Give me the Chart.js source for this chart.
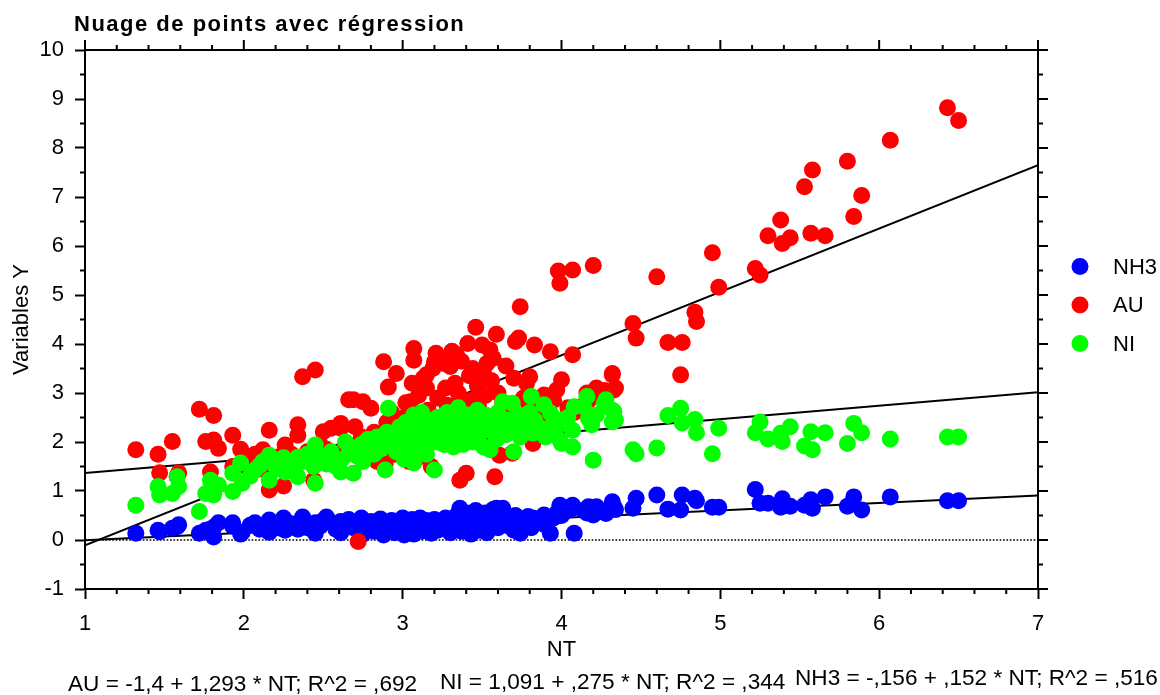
<!DOCTYPE html>
<html>
<head>
<meta charset="utf-8">
<title>Nuage de points avec régression</title>
<script src="https://cdn.jsdelivr.net/npm/chart.js@4/dist/chart.umd.min.js"></script>
<style>
  html, body { margin: 0; padding: 0; background: #ffffff; }
  #wrap { width: 1160px; height: 695px; position: relative; }
  canvas { display: block; }
</style>
</head>
<body>
<div id="wrap"><canvas id="chart" width="1160" height="695"></canvas></div>
<script>
// ---- Observations: NT and the three measured variables (same order) ----
const nt = [
  1.32,1.46,1.47,1.55,1.58,1.59,1.72,1.76,1.79,1.81,1.81,1.84,1.93,1.93,1.98,1.99,
  2.04,2.07,2.10,2.12,2.16,2.16,2.20,2.22,2.25,2.26,2.26,2.30,2.34,2.34,2.37,2.40,2.44,2.45,2.45,2.48,2.50,2.52,
  2.55,2.58,2.61,2.61,2.64,2.66,2.69,2.70,2.72,2.74,2.75,2.78,2.80,2.82,2.84,2.86,2.88,2.89,2.90,2.91,
  2.93,2.95,2.96,2.98,3.00,3.01,3.02,3.04,3.05,3.06,3.07,3.07,3.08,3.10,3.11,3.12,3.13,3.15,3.15,3.16,3.18,3.19,3.20,3.21,3.22,3.24,
  3.26,3.27,3.28,3.30,3.31,3.32,3.33,3.34,3.35,3.36,3.37,3.38,3.40,3.41,3.42,3.43,3.44,3.46,3.47,3.48,3.50,3.51,3.52,3.53,3.55,3.56,3.57,3.58,3.59,3.60,
  3.61,3.63,3.65,3.67,3.69,3.70,3.71,3.73,3.74,3.76,3.78,3.79,3.80,3.81,3.82,3.83,3.86,3.89,3.90,3.93,3.95,3.97,3.98,3.99,4.00,4.04,4.07,4.07,4.08,4.14,4.16,4.17,4.19,4.20,4.22,4.27,4.28,4.32,4.32,4.33,4.34,
  4.45,4.47,4.60,4.67,4.75,4.76,4.84,4.85,4.95,4.99,5.22,5.25,5.30,5.38,5.39,5.44,5.53,5.57,5.58,5.66,5.80,5.84,5.89,6.07,6.43,6.50
];
const nh3 = [
  0.14,0.20,0.17,0.24,0.27,0.31,0.14,0.20,0.22,0.06,0.26,0.35,0.35,0.28,0.12,0.16,
  0.30,0.35,0.22,0.28,0.41,0.16,0.30,0.25,0.45,0.27,0.20,0.33,0.31,0.22,0.47,0.25,0.30,0.35,0.14,0.28,0.40,0.47,
  0.35,0.22,0.38,0.15,0.30,0.42,0.25,0.33,0.20,0.45,0.12,0.30,0.38,0.18,0.27,0.43,0.10,0.35,0.22,0.30,
  0.40,0.15,0.32,0.25,0.45,0.10,0.35,0.28,0.20,0.42,0.33,0.12,0.38,0.25,0.45,0.18,0.30,0.40,0.22,0.35,0.14,0.28,0.42,0.33,0.20,0.38,
  0.25,0.45,0.30,0.15,0.40,0.35,0.22,0.50,0.28,0.65,0.18,0.35,0.55,0.25,0.42,0.12,0.38,0.60,0.30,0.20,0.45,0.35,0.55,0.15,0.40,0.28,0.62,0.48,0.65,0.25,
  0.35,0.65,0.30,0.45,0.40,0.20,0.50,0.35,0.14,0.42,0.30,0.48,0.37,0.25,0.45,0.33,0.40,0.51,0.30,0.14,0.45,0.55,0.50,0.71,0.50,0.60,0.71,0.65,0.14,0.60,0.55,0.68,0.60,0.51,0.68,0.58,0.54,0.73,0.78,0.68,0.62,
  0.65,0.85,0.92,0.63,0.61,0.92,0.85,0.80,0.67,0.67,1.03,0.75,0.75,0.67,0.84,0.69,0.71,0.82,0.65,0.88,0.69,0.88,0.61,0.88,0.80,0.80
];
const au = [
  1.84,1.75,1.37,2.01,1.30,1.37,2.67,2.01,1.39,2.54,2.04,1.87,2.14,1.50,1.85,1.52,
  1.60,1.75,1.45,1.84,2.24,1.02,1.55,1.70,1.10,1.94,1.60,1.75,2.35,2.14,3.33,1.80,1.22,3.47,1.65,1.95,2.21,1.85,
  2.28,1.70,2.28,2.38,1.90,2.86,2.86,2.31,-0.03,2.10,2.82,1.80,2.69,2.20,1.60,1.95,3.64,1.55,2.40,3.12,
  2.60,1.75,3.40,2.20,1.90,2.50,2.80,1.60,2.82,3.20,3.91,3.67,2.10,2.95,1.70,2.40,3.30,3.37,3.10,2.65,1.50,3.50,3.64,3.81,2.90,2.30,
  3.60,3.10,2.75,3.54,3.85,2.50,3.20,3.78,3.00,1.22,3.65,2.60,1.36,4.01,3.35,2.85,3.50,4.34,3.15,2.70,3.98,3.40,2.95,3.60,3.88,3.25,3.71,1.29,4.20,3.00,
  1.73,2.80,3.55,2.50,1.77,3.30,4.05,4.12,4.76,2.90,3.20,2.65,3.33,2.40,1.97,3.98,2.75,2.96,2.55,3.84,2.85,3.06,5.49,5.24,3.27,2.70,5.51,3.78,2.60,2.75,3.00,2.85,2.93,5.60,3.10,3.05,2.95,3.40,3.37,3.06,3.10,
  4.42,4.12,5.37,4.03,3.37,4.03,4.65,4.46,5.86,5.16,5.54,5.41,6.21,6.53,6.05,6.17,7.21,6.26,7.55,6.21,7.73,6.60,7.03,8.16,8.82,8.56
];
const ni = [
  0.71,1.09,0.92,0.95,1.29,1.09,0.58,0.95,1.22,0.92,1.12,1.12,0.99,1.36,1.57,1.16,
  1.30,1.43,1.52,1.60,1.73,1.22,1.50,1.45,1.68,1.63,1.39,1.55,1.69,1.29,1.60,1.75,1.50,1.94,1.16,1.60,1.70,1.55,
  1.80,1.50,1.39,1.63,2.00,1.75,1.36,1.85,1.70,1.95,1.60,2.05,1.90,1.75,2.10,1.85,2.00,1.43,2.20,2.69,
  1.95,2.10,1.80,2.30,2.00,1.65,2.40,2.15,1.90,2.25,1.57,2.55,2.05,2.35,1.85,2.60,2.00,2.20,1.75,2.45,2.10,2.30,1.43,2.00,2.50,2.15,
  1.95,2.35,2.60,2.10,2.25,1.90,2.45,2.05,2.70,2.20,2.40,1.95,2.30,2.55,2.10,2.45,2.00,2.35,2.65,2.15,2.40,1.90,2.55,2.25,1.84,2.50,2.20,2.35,2.05,2.60,
  2.40,2.82,2.15,2.45,2.79,1.80,2.30,2.55,2.10,2.35,2.20,2.48,2.60,2.93,2.18,2.45,2.30,2.76,2.10,2.59,2.40,2.31,2.45,2.04,1.97,2.50,2.24,1.90,2.72,2.72,2.93,2.48,2.35,1.63,2.55,2.79,2.86,2.41,2.65,2.62,2.45,
  1.84,1.76,1.88,2.54,2.69,2.39,2.46,2.19,1.76,2.28,2.19,2.41,2.06,2.18,2.01,2.31,1.92,2.21,1.84,2.19,1.97,2.38,2.19,2.06,2.10,2.10
];

// ---- Series and regression fits ----
const seriesNames  = ['NH3', 'AU', 'NI'];
const seriesColors = ['#0000ff', '#ff0000', '#00ff00'];
const regNames     = ['AU', 'NI', 'NH3'];
const regIntercept = [-1.4, 1.091, -0.156];
const regSlope     = [1.293, 0.275, 0.152];
const regR2        = [0.692, 0.344, 0.516];

// ---- Axis ranges ----
const xRange = [1, 7];
const yRange = [-1, 10];

const FONT = "'Liberation Sans', Arial, Helvetica, sans-serif";
Chart.defaults.font.family = FONT;
Chart.defaults.color = '#000000';

// French number style: comma decimal, no leading zero (",275")
function fmt(v) {
  let s = String(Math.abs(v)).replace('.', ',');
  if (s.startsWith('0,')) s = s.slice(1);
  return (v < 0 ? '-' : '') + s;
}
const equations = regNames.map((n, i) =>
  `${n} = ${fmt(regIntercept[i])} + ${fmt(regSlope[i])} * NT; R^2 = ${fmt(regR2[i])}`);

const seriesValues = [nh3, au, ni];
const pointOrder = [3, 2, 1];   // NI drawn on top, then AU, then NH3
const scatterSets = seriesNames.map((name, i) => ({
  label: name,
  data: nt.map((x, k) => ({ x: x, y: seriesValues[i][k] })),
  backgroundColor: seriesColors[i],
  borderWidth: 0,
  pointRadius: 8.5,
  pointHoverRadius: 8.5,
  order: pointOrder[i]
}));
const fitSets = regNames.map((name, i) => ({
  label: 'fit ' + name,
  data: xRange.map(x => ({ x: x, y: regIntercept[i] + regSlope[i] * x })),
  showLine: true,
  borderColor: '#000000',
  borderWidth: 2,
  pointRadius: 0,
  pointHoverRadius: 0,
  fill: false,
  order: 10 + i
}));

// Frame, minor ticks, zero reference line, legend and captions
const decorations = {
  id: 'decorations',
  beforeDatasetsDraw(chart) {
    const { ctx, chartArea: a, scales: { y } } = chart;
    const y0 = y.getPixelForValue(0);
    ctx.save();
    ctx.strokeStyle = '#000';
    ctx.lineWidth = 1.5;
    ctx.setLineDash([1.7, 1.7]);
    ctx.beginPath();
    ctx.moveTo(a.left, y0);
    ctx.lineTo(a.right, y0);
    ctx.stroke();
    ctx.restore();
  },
  afterDraw(chart) {
    const { ctx, chartArea: a, scales: { x, y } } = chart;
    ctx.save();
    ctx.strokeStyle = '#000';
    ctx.lineWidth = 2;
    ctx.lineCap = 'butt';
    // top and right edges of the frame
    ctx.beginPath();
    ctx.moveTo(a.left - 1, a.top);
    ctx.lineTo(a.right + 1, a.top);
    ctx.moveTo(a.right, a.top - 1);
    ctx.lineTo(a.right, a.bottom + 1);
    ctx.stroke();

    ctx.beginPath();
    // x ticks: majors every 1 on top, minors every 0.2 on top and bottom
    for (let k = 0; k <= (xRange[1] - xRange[0]) * 5; k++) {
      const px = x.getPixelForValue(xRange[0] + k / 5);
      const major = k % 5 === 0;
      const len = major ? 10 : 5;
      ctx.moveTo(px, a.top); ctx.lineTo(px, a.top - len);
      if (!major) { ctx.moveTo(px, a.bottom); ctx.lineTo(px, a.bottom + len); }
    }
    // y ticks: majors every 1 on right, minors every 0.5 on left and right
    for (let k = 0; k <= (yRange[1] - yRange[0]) * 2; k++) {
      const py = y.getPixelForValue(yRange[0] + k / 2);
      const major = k % 2 === 0;
      const len = major ? 10 : 5;
      ctx.moveTo(a.right, py); ctx.lineTo(a.right + len, py);
      if (!major) { ctx.moveTo(a.left, py); ctx.lineTo(a.left - len, py); }
    }
    ctx.stroke();

    // legend
    ctx.font = '22px ' + FONT;
    ctx.textBaseline = 'middle';
    ctx.textAlign = 'left';
    scatterSets.forEach((ds, i) => {
      const cy = 266.5 + i * 38.5;
      ctx.fillStyle = ds.backgroundColor;
      ctx.beginPath();
      ctx.arc(1080, cy, 8.5, 0, Math.PI * 2);
      ctx.fill();
      ctx.fillStyle = '#000';
      ctx.fillText(ds.label, 1113, cy + 1);
    });

    // title
    ctx.textBaseline = 'alphabetic';
    ctx.font = 'bold 22px ' + FONT;
    if ('letterSpacing' in ctx) ctx.letterSpacing = '1.5px';
    ctx.fillText('Nuage de points avec régression', 74, 31);
    if ('letterSpacing' in ctx) ctx.letterSpacing = '0px';

    // regression equations
    ctx.font = '22.6px ' + FONT;
    const eqX = [68, 440, 795];
    const eqY = [691, 689, 685];
    equations.forEach((t, i) => ctx.fillText(t, eqX[i], eqY[i]));
    ctx.restore();
  }
};

new Chart(document.getElementById('chart'), {
  type: 'scatter',
  data: { datasets: [...scatterSets, ...fitSets] },
  options: {
    responsive: false,
    animation: false,
    events: [],
    layout: { padding: { top: 50, right: 122, bottom: 0, left: 0 } },
    plugins: { legend: { display: false }, tooltip: { enabled: false }, title: { display: false } },
    scales: {
      x: {
        type: 'linear',
        min: xRange[0], max: xRange[1],
        ticks: { stepSize: 1, autoSkip: false, maxRotation: 0, padding: 12, color: '#000', font: { size: 22 } },
        grid: { drawOnChartArea: false, drawTicks: true, tickLength: 10, tickWidth: 2, tickColor: '#000' },
        border: { display: true, color: '#000', width: 2 },
        title: { display: true, text: 'NT', color: '#000', font: { size: 22 }, padding: { top: 0, bottom: 32 } },
        afterFit(s) { s.height = 106; }
      },
      y: {
        type: 'linear',
        min: yRange[0], max: yRange[1],
        ticks: { stepSize: 1, autoSkip: false, padding: 11, color: '#000', font: { size: 22 } },
        grid: { drawOnChartArea: false, drawTicks: true, tickLength: 10, tickWidth: 2, tickColor: '#000' },
        border: { display: true, color: '#000', width: 2 },
        title: { display: true, text: 'Variables Y', color: '#000', font: { size: 22 }, padding: { top: 9, bottom: 0 } },
        afterFit(s) { s.width = 85; }
      }
    }
  },
  plugins: [decorations]
});
</script>
</body>
</html>
